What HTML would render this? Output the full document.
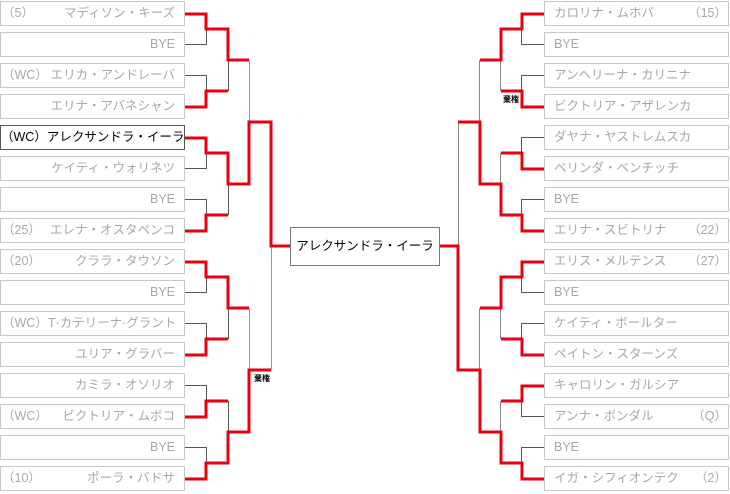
<!DOCTYPE html>
<html><head><meta charset="utf-8"><style>
body{margin:0;width:730px;height:494px;background:#fff;position:relative;overflow:hidden;font-family:"Liberation Sans","Noto Sans CJK JP",sans-serif;}
.b{position:absolute;width:183px;height:23px;border:1px solid #c8c8c8;background:#fff;color:#a8a8a8;font-size:12.5px;line-height:23px;box-sizing:content-box;white-space:nowrap}
.l{left:0}.r{left:544px}
.b .s{position:absolute;top:0}
.l .s{left:1px}.l .n{position:absolute;right:9px;top:0}
.r .n{position:absolute;left:9px;top:0}.r .s{right:1px}
.sel{border-color:#555;color:#000}
.c{position:absolute;left:290px;top:227px;width:148px;height:37px;border:1px solid #777;font-size:12.5px;line-height:37px;text-align:center;color:#000;white-space:nowrap}
.k{position:absolute;font-size:8px;font-weight:bold;color:#000}
svg{position:absolute;left:0;top:0}
</style></head><body>
<svg width="730" height="494">
<g fill="none" stroke="#555" stroke-width="1">
<path d="M185 44.5H206.5V29M185 75.5H206.5V91M185 168.5H206.5V153M185 199.5H206.5V215M185 292.5H206.5V277M185 323.5H206.5V339M185 385.5H206.5V401M185 447.5H206.5V463"/>
<path d="M228.5 60V91M228.5 184V215M228.5 308V339M228.5 401V432"/>
<path stroke="#999" d="M249.5 60V122M249.5 308V370M271.5 246V370"/>
<path d="M544 44.5H521.5V29M544 75.5H521.5V91M544 137.5H521.5V153M544 199.5H521.5V215M544 292.5H521.5V277M544 323.5H521.5V339M544 416.5H521.5V401M544 447.5H521.5V463"/>
<path stroke="#888" d="M500.5 60V91M500.5 153V184M500.5 308V339M500.5 401V432M479.5 60V122M479.5 308V370M458.5 122V246"/>
</g>
<g fill="none" stroke="#e60012" stroke-width="3">
<path d="M185 14H206V29H228V60H249"/>
<path d="M185 107H206V91H228"/>
<path d="M185 138H206V153H228V184H249V122H271V246H290"/>
<path d="M185 231H206V215H228"/>
<path d="M185 262H206V277H228V308H249"/>
<path d="M185 355H206V339H228"/>
<path d="M185 417H206V401H228"/>
<path d="M185 479H206V463H228V432H249V370H271"/>
<path d="M544 14H522V29H501V60H480"/>
<path d="M544 107H522V91H501"/>
<path d="M544 169H522V153H501"/>
<path d="M544 231H522V215H501V184H480V122H458"/>
<path d="M544 262H522V277H501V308H480"/>
<path d="M544 355H522V339H501"/>
<path d="M544 386H522V401H501"/>
<path d="M544 479H522V463H501V432H480V370H458V246H440"/>
</g>
</svg>
<div class="b l" style="top:1px"><span class="s">（5）</span><span class="n">マディソン・キーズ</span></div>
<div class="b l" style="top:32px"><span class="n">BYE</span></div>
<div class="b l" style="top:63px"><span class="s">（WC）</span><span class="n">エリカ・アンドレーバ</span></div>
<div class="b l" style="top:94px"><span class="n">エリナ・アバネシャン</span></div>
<div class="b l sel" style="top:125px"><span class="s" style="left:0px">（WC）アレクサンドラ・イーラ</span></div>
<div class="b l" style="top:156px"><span class="n">ケイティ・ウォリネツ</span></div>
<div class="b l" style="top:187px"><span class="n">BYE</span></div>
<div class="b l" style="top:218px"><span class="s">（25）</span><span class="n">エレナ・オスタペンコ</span></div>
<div class="b l" style="top:249px"><span class="s">（20）</span><span class="n">クララ・タウソン</span></div>
<div class="b l" style="top:280px"><span class="n">BYE</span></div>
<div class="b l" style="top:311px"><span class="s">（WC）T·カテリーナ·グラント</span></div>
<div class="b l" style="top:342px"><span class="n">ユリア・グラバー</span></div>
<div class="b l" style="top:373px"><span class="n">カミラ・オソリオ</span></div>
<div class="b l" style="top:404px"><span class="s">（WC）</span><span class="n">ビクトリア・ムボコ</span></div>
<div class="b l" style="top:435px"><span class="n">BYE</span></div>
<div class="b l" style="top:466px"><span class="s">（10）</span><span class="n">ポーラ・バドサ</span></div>

<div class="b r" style="top:1px"><span class="n">カロリナ・ムホバ</span><span class="s">（15）</span></div>
<div class="b r" style="top:32px"><span class="n">BYE</span></div>
<div class="b r" style="top:63px"><span class="n">アンヘリーナ・カリニナ</span></div>
<div class="b r" style="top:94px"><span class="n">ビクトリア・アザレンカ</span></div>
<div class="b r" style="top:125px"><span class="n">ダヤナ・ヤストレムスカ</span></div>
<div class="b r" style="top:156px"><span class="n">ベリンダ・ベンチッチ</span></div>
<div class="b r" style="top:187px"><span class="n">BYE</span></div>
<div class="b r" style="top:218px"><span class="n">エリナ・スビトリナ</span><span class="s">（22）</span></div>
<div class="b r" style="top:249px"><span class="n">エリス・メルテンス</span><span class="s">（27）</span></div>
<div class="b r" style="top:280px"><span class="n">BYE</span></div>
<div class="b r" style="top:311px"><span class="n">ケイティ・ボールター</span></div>
<div class="b r" style="top:342px"><span class="n">ペイトン・スターンズ</span></div>
<div class="b r" style="top:373px"><span class="n">キャロリン・ガルシア</span></div>
<div class="b r" style="top:404px"><span class="n">アンナ・ボンダル</span><span class="s">（Q）</span></div>
<div class="b r" style="top:435px"><span class="n">BYE</span></div>
<div class="b r" style="top:466px"><span class="n">イガ・シフィオンテク</span><span class="s">（2）</span></div>

<div class="c">アレクサンドラ・イーラ</div>
<div class="k" style="left:254px;top:373px">棄権</div>
<div class="k" style="left:503px;top:94px">棄権</div>
</body></html>
